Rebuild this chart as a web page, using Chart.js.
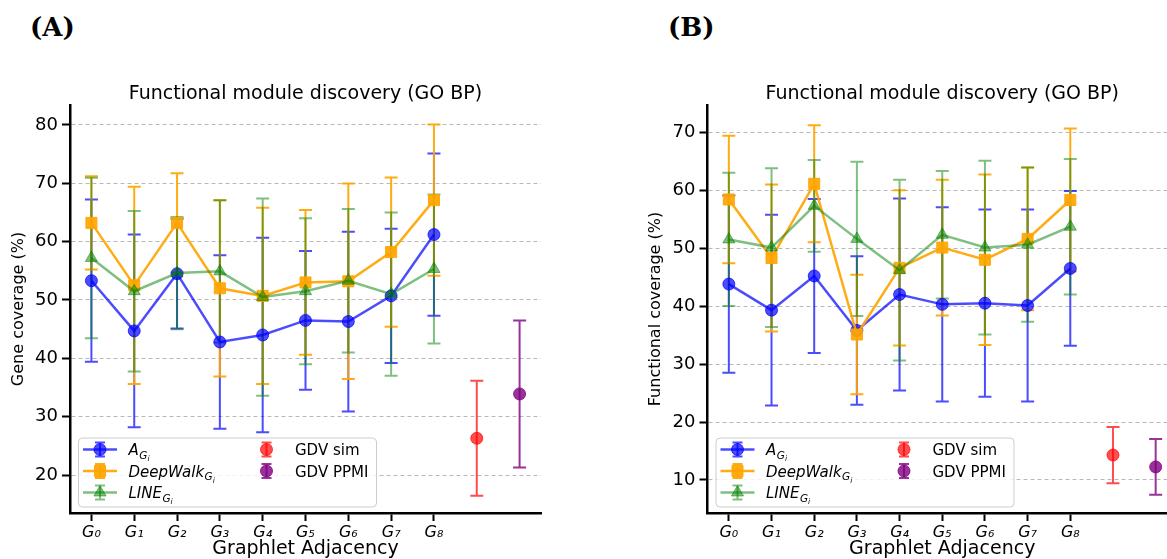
<!DOCTYPE html>
<html>
<head>
<meta charset="utf-8">
<script src="https://cdn.jsdelivr.net/npm/chart.js@4.4.1/dist/chart.umd.min.js"></script>
<style>
  html, body { margin: 0; padding: 0; background: #fff; width: 1167px; height: 559px; overflow: hidden; }
  body { position: relative; }
  canvas { position: absolute; top: 0; }
  .tag { position: absolute; top: 12px; line-height: 30px; font-family: "DejaVu Serif", serif; font-weight: bold; font-size: 26px; color: #000; }
</style>
</head>
<body>
<div class="tag" style="left:30px">(A)</div>
<div class="tag" style="left:668px">(B)</div>
<canvas id="chartA" width="560" height="559" style="left:0"></canvas>
<canvas id="chartB" width="640" height="559" style="left:560px"></canvas>

<script>
// x axis: graphlet adjacencies G0..G8, then the two GDV baselines at x = 9 and 10
const tickLabels = ["G₀", "G₁", "G₂", "G₃", "G₄", "G₅", "G₆", "G₇", "G₈"];
const yTicksA = [20, 30, 40, 50, 60, 70, 80];
const yTicksB = [10, 20, 30, 40, 50, 60, 70];

// (A) gene coverage, mean and std
const adjA = [53.3, 44.7, 54.5, 42.8, 44.0, 46.5, 46.3, 50.7, 61.2];
const adjErrA = [13.9, 16.5, 9.4, 14.85, 16.65, 11.9, 15.4, 11.5, 13.9];
const deepwalkA = [63.2, 52.5, 63.2, 52.0, 50.7, 53.0, 53.2, 58.2, 67.1];
const deepwalkErrA = [8.0, 16.9, 8.5, 15.1, 15.1, 12.4, 16.75, 12.8, 12.95];
const lineA = [57.2, 51.5, 54.6, 54.9, 50.5, 51.5, 53.3, 51.0, 55.3];
const lineErrA = [13.75, 13.75, 9.6, 12.2, 16.9, 12.5, 12.3, 14.0, 12.75];
const gdvSimA = [26.3];
const gdvSimErrA = [9.85];
const gdvPpmiA = [33.9];
const gdvPpmiErrA = [12.6];

// (B) functional coverage, mean and std
const adjB = [43.8, 39.3, 45.2, 35.8, 42.0, 40.3, 40.5, 40.1, 46.5];
const adjErrB = [15.3, 16.45, 13.3, 12.8, 16.55, 16.75, 16.15, 16.55, 13.35];
const deepwalkB = [58.4, 48.3, 61.1, 35.1, 46.6, 50.1, 48.0, 51.6, 58.3];
const deepwalkErrB = [11.0, 12.7, 10.1, 10.3, 13.4, 11.7, 14.7, 12.3, 12.35];
const lineB = [51.5, 50.1, 57.3, 51.6, 46.2, 52.3, 50.1, 50.6, 53.7];
const lineErrB = [11.5, 13.7, 7.9, 13.3, 15.6, 11.0, 15.0, 13.3, 11.7];
const gdvSimB = [14.3];
const gdvSimErrB = [4.85];
const gdvPpmiB = [12.25];
const gdvPpmiErrB = [4.8];

const BLUE = "rgba(0,0,255,0.7)";
const ORANGE = "rgba(255,165,0,0.92)";
const GREEN = "rgba(0,128,0,0.5)";
const RED = "rgba(255,0,0,0.7)";
const PURPLE = "rgba(128,0,128,0.8)";
const CAP = 6.5;

Chart.defaults.font.family = "DejaVu Sans";
Chart.defaults.color = "#000";

// Turn a list of values into {x, y} points starting at the given x
function points(vals, start) {
  return vals.map((v, i) => ({ x: start + i, y: v }));
}

function series(label, vals, errs, start, color, style, radius, order, showLine) {
  return {
    label: label,
    data: points(vals, start),
    errors: errs,
    borderColor: color,
    backgroundColor: color,
    pointBackgroundColor: color,
    pointBorderColor: color,
    pointStyle: style,
    pointRadius: radius,
    pointBorderWidth: 1,
    borderWidth: 2.5,
    showLine: showLine,
    tension: 0,
    fill: false,
    order: order,
    clip: false
  };
}

// Vertical error bars with caps, drawn under every line and marker
const errorBars = {
  id: "errorBars",
  beforeDatasetsDraw(chart) {
    const ctx = chart.ctx;
    const xs = chart.scales.x, ys = chart.scales.y;
    chart.data.datasets.forEach(ds => {
      ctx.save();
      ctx.strokeStyle = ds.borderColor;
      ctx.lineWidth = 2;
      ds.data.forEach((p, j) => {
        const e = ds.errors[j];
        const x = xs.getPixelForValue(p.x);
        const top = ys.getPixelForValue(p.y + e);
        const bot = ys.getPixelForValue(p.y - e);
        ctx.beginPath();
        ctx.moveTo(x, top); ctx.lineTo(x, bot);
        ctx.moveTo(x - CAP, top); ctx.lineTo(x + CAP, top);
        ctx.moveTo(x - CAP, bot); ctx.lineTo(x + CAP, bot);
        ctx.stroke();
      });
      ctx.restore();
    });
  }
};

// Title centred over the plot area
const plotTitle = {
  id: "plotTitle",
  afterDraw(chart, args, opts) {
    const ctx = chart.ctx;
    const area = chart.chartArea;
    ctx.save();
    ctx.font = "19px 'DejaVu Sans'";
    ctx.fillStyle = "#000";
    ctx.textAlign = "center";
    ctx.textBaseline = "middle";
    ctx.fillText(opts.text, (area.left + area.right) / 2, 94);
    ctx.restore();
  }
};

// Two-column legend with errorbar symbols and subscripted names
function drawLabel(ctx, x, y, item) {
  let cx = x;
  const base = y + 5.5;
  ctx.textAlign = "left";
  ctx.textBaseline = "alphabetic";
  if (!item.sub) {
    ctx.font = "15px 'DejaVu Sans'";
    ctx.fillText(item.name, cx, base);
    return;
  }
  ctx.font = "italic 15px 'DejaVu Sans'";
  ctx.fillText(item.name, cx, base);
  cx += ctx.measureText(item.name).width + 0.5;
  ctx.font = "italic 10.5px 'DejaVu Sans'";
  ctx.fillText("G", cx, base + 3.5);
  cx += ctx.measureText("G").width;
  ctx.font = "italic 7.5px 'DejaVu Sans'";
  ctx.fillText("i", cx, base + 6);
}

function drawSymbol(ctx, x, y, ds) {
  ctx.save();
  ctx.strokeStyle = ds.borderColor;
  ctx.fillStyle = ds.borderColor;
  ctx.lineWidth = 2;
  ctx.beginPath();
  ctx.moveTo(x, y - 7); ctx.lineTo(x, y + 7);
  ctx.moveTo(x - 5, y - 7); ctx.lineTo(x + 5, y - 7);
  ctx.moveTo(x - 5, y + 7); ctx.lineTo(x + 5, y + 7);
  ctx.stroke();
  if (ds.showLine) {
    ctx.lineWidth = 2.5;
    ctx.beginPath();
    ctx.moveTo(x - 17, y); ctx.lineTo(x + 17, y);
    ctx.stroke();
  }
  ctx.lineWidth = 1;
  Chart.helpers.drawPoint(ctx, { pointStyle: ds.pointStyle, rotation: 0, radius: ds.pointRadius, borderWidth: 1 }, x, y);
  ctx.restore();
}

const errLegend = {
  id: "errLegend",
  afterDraw(chart, args, opts) {
    const ctx = chart.ctx;
    const area = chart.chartArea;
    const left = area.left + 8.5, bottom = area.bottom - 6;
    const w = 298, h = 69, top = bottom - h;
    ctx.save();
    ctx.fillStyle = "rgba(255,255,255,0.8)";
    ctx.strokeStyle = "#cccccc";
    ctx.lineWidth = 1;
    ctx.beginPath();
    ctx.roundRect(left, top, w, h, 4);
    ctx.fill();
    ctx.stroke();
    const rows = [top + 11.5, top + 33, top + 54.5];
    const ds = chart.data.datasets;
    opts.items.forEach((item, k) => {
      const col = k < 3 ? 0 : 1;
      const row = k < 3 ? k : k - 3;
      const mx = left + (col ? 188 : 21.5);
      const tx = left + (col ? 216.5 : 50);
      drawSymbol(ctx, mx, rows[row], ds[k]);
      ctx.fillStyle = "#000";
      drawLabel(ctx, tx, rows[row], item);
    });
    ctx.restore();
  }
};

const legendItems = [
  { name: "A", sub: true },
  { name: "DeepWalk", sub: true },
  { name: "LINE", sub: true },
  { name: "GDV sim" },
  { name: "GDV PPMI" }
];

function buildChart(id, cfg) {
  const datasets = [
    series("A", cfg.adj, cfg.adjErr, 0, BLUE, "circle", 6, 5, true),
    series("DeepWalk", cfg.dw, cfg.dwErr, 0, ORANGE, "rect", 7.8, 4, true),
    series("LINE", cfg.line, cfg.lineErr, 0, GREEN, "triangle", 7, 3, true),
    series("GDV sim", cfg.sim, cfg.simErr, 9, RED, "circle", 6, 2, false),
    series("GDV PPMI", cfg.ppmi, cfg.ppmiErr, 10, PURPLE, "circle", 6, 1, false)
  ];
  return new Chart(document.getElementById(id), {
    type: "line",
    data: { datasets: datasets },
    plugins: [errorBars, plotTitle, errLegend],
    options: {
      responsive: false,
      animation: false,
      layout: { padding: { left: cfg.padLeft, right: cfg.padRight, top: 105, bottom: 0 } },
      plugins: {
        legend: { display: false },
        tooltip: { enabled: false },
        plotTitle: { text: "Functional module discovery (GO BP)" },
        errLegend: { items: legendItems }
      },
      scales: {
        x: {
          type: "linear",
          min: -0.5,
          max: 10.5,
          afterBuildTicks: s => { s.ticks = tickLabels.map((_, i) => ({ value: i })); },
          afterFit: s => { s.height = 46; },
          ticks: {
            callback: v => tickLabels[v] ?? "",
            font: { family: "DejaVu Sans", style: "italic", size: 16 },
            color: "#000",
            padding: 2,
            autoSkip: false,
            maxRotation: 0
          },
          grid: { drawOnChartArea: false, tickLength: 8, tickWidth: 2, tickColor: "#000" },
          border: { color: "#000", width: 2.5 },
          title: {
            display: true,
            text: "Graphlet Adjacency",
            font: { family: "DejaVu Sans", size: 19, lineHeight: 1 },
            color: "#000",
            padding: { top: 0, bottom: 0 }
          }
        },
        y: {
          min: cfg.yMin,
          max: cfg.yMax,
          afterBuildTicks: s => { s.ticks = cfg.yTicks.map(v => ({ value: v })); },
          afterFit: s => { s.width = 70; },
          ticks: { font: { size: 18 }, color: "#000", padding: 4 },
          grid: { color: "#b8b8b8", lineWidth: 1, tickLength: 8, tickWidth: 2, tickColor: "#000", tickBorderDash: [] },
          border: { color: "#000", width: 2.5, dash: [4, 3] },
          title: {
            display: true,
            text: cfg.yTitle,
            font: { size: 16 },
            color: "#000",
            padding: { top: 9, bottom: 0 }
          }
        }
      }
    }
  });
}

buildChart("chartA", {
  adj: adjA, adjErr: adjErrA, dw: deepwalkA, dwErr: deepwalkErrA, line: lineA, lineErr: lineErrA,
  sim: gdvSimA, simErr: gdvSimErrA, ppmi: gdvPpmiA, ppmiErr: gdvPpmiErrA,
  yMin: 13.5, yMax: 83.4, yTicks: yTicksA, yTitle: "Gene coverage (%)",
  padLeft: 0, padRight: 19
});

buildChart("chartB", {
  adj: adjB, adjErr: adjErrB, dw: deepwalkB, dwErr: deepwalkErrB, line: lineB, lineErr: lineErrB,
  sim: gdvSimB, simErr: gdvSimErrB, ppmi: gdvPpmiB, ppmiErr: gdvPpmiErrB,
  yMin: 4.3, yMax: 74.7, yTicks: yTicksB, yTitle: "Functional coverage (%)",
  padLeft: 77.5, padRight: 23
});
</script>
</body>
</html>
